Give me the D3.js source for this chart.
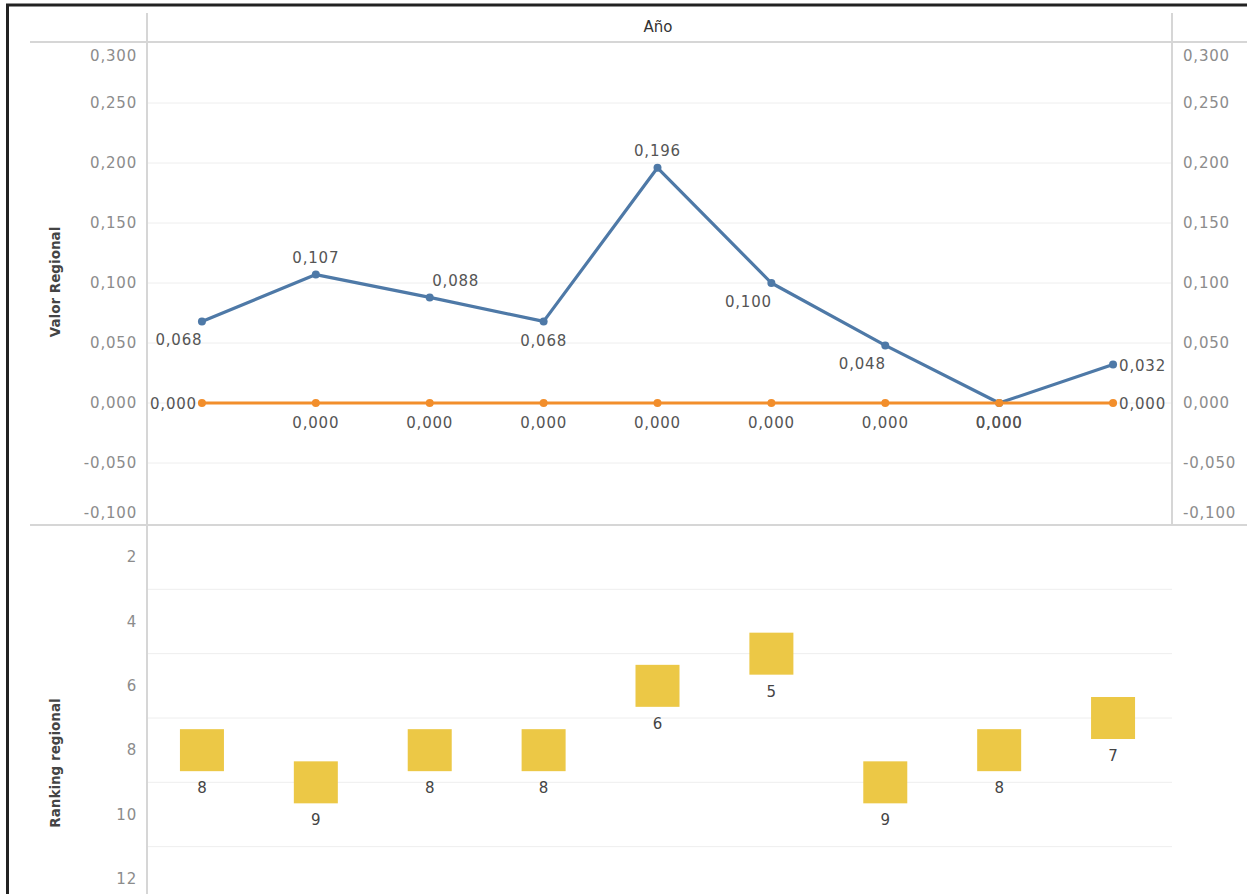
<!DOCTYPE html>
<html>
<head>
<meta charset="utf-8">
<script src="https://cdn.jsdelivr.net/npm/d3@7"></script>
<style>
  body { margin: 0; background: #fff; }
  svg text { font-family: "DejaVu Sans", sans-serif; }
</style>
</head>
<body>
<div id="chart"></div>
<script>
// Chart data.
var periodos = ["P1", "P2", "P3", "P4", "P5", "P6", "P7", "P8", "P9"];
var valorRegional = [0.068, 0.107, 0.088, 0.068, 0.196, 0.100, 0.048, 0.000, 0.032];
var valorReferencia = [0.000, 0.000, 0.000, 0.000, 0.000, 0.000, 0.000, 0.000, 0.000];
var rankingRegional = [8, 9, 8, 8, 6, 5, 9, 8, 7];

var valorTicks = [-0.1, -0.05, 0, 0.05, 0.1, 0.15, 0.2, 0.25, 0.3];
var rankingTicks = [2, 4, 6, 8, 10, 12];
var rankingGrid = [3, 5, 7, 9, 11];

// Where each mark label sits relative to its point.
var regionalLabelPos = ["bl", "t", "tr", "b", "t", "bl", "bl", "b", "r"];
var referenciaLabelPos = ["l", "b", "b", "b", "b", "b", "b", "b", "r"];

var W = 1247, H = 894;
var paneLeft = 145, paneRight = 1170;
var topPane = { top: 42, bottom: 525 };
var botPane = { top: 525, bottom: 894 };

var blue = "#4e79a7", orange = "#f28e2b", yellow = "#ecc846";
var sepColor = "#d6d6d6", gridColor = "#eeeeee";
var tickColor = "#8c8c8c", labelColor = "#555";

var locale = d3.formatLocale({ decimal: ",", thousands: ".", grouping: [3], currency: ["", ""], minus: "-" });
var fmt = locale.format(".3f");

var svg = d3.select("#chart").append("svg")
    .attr("width", W)
    .attr("height", H);

// Scales.
var x = d3.scalePoint()
    .domain(periodos)
    .range([paneLeft, paneRight])
    .padding(0.5);

var yValor = d3.scaleLinear()
    .domain([-0.1, 0.3])
    .range([523, 43]);

var yRank = d3.scaleLinear()
    .domain([1, 13])
    .range([525, 911]);

// Gridlines.
svg.append("g").selectAll("line")
    .data(valorTicks.filter(t => t > -0.1 && t < 0.3))
    .enter().append("line")
    .attr("x1", 147).attr("x2", 1172)
    .attr("y1", d => yValor(d)).attr("y2", d => yValor(d))
    .attr("stroke", gridColor).attr("stroke-width", 1);

svg.append("g").selectAll("line")
    .data(rankingGrid)
    .enter().append("line")
    .attr("x1", 147).attr("x2", 1172)
    .attr("y1", d => yRank(d)).attr("y2", d => yRank(d))
    .attr("stroke", gridColor).attr("stroke-width", 1);

// Frame and separators.
svg.append("rect")
    .attr("x", 7.5).attr("y", 5)
    .attr("width", W + 10).attr("height", H + 10)
    .attr("fill", "none").attr("stroke", "#222").attr("stroke-width", 3);

var sep = svg.append("g").attr("stroke", sepColor).attr("stroke-width", 2);
sep.append("line").attr("x1", 30).attr("x2", W).attr("y1", topPane.top).attr("y2", topPane.top);
sep.append("line").attr("x1", 30).attr("x2", W).attr("y1", topPane.bottom).attr("y2", topPane.bottom);
sep.append("line").attr("x1", 147).attr("x2", 147).attr("y1", 13).attr("y2", H);
sep.append("line").attr("x1", 1172).attr("x2", 1172).attr("y1", 13).attr("y2", topPane.bottom);

// Column header.
svg.append("text")
    .attr("x", 658).attr("y", 27)
    .attr("text-anchor", "middle").attr("dominant-baseline", "central")
    .attr("font-size", 15).attr("fill", "#333")
    .text("Año");

// Axis tick labels (pushed inside the pane at the edges, like Tableau).
function clampY(v, pane) {
    return Math.max(pane.top + 14, Math.min(pane.bottom - 12, v));
}

var tickFont = { size: 15, spacing: 0.8 };

svg.append("g").selectAll("text")
    .data(valorTicks)
    .enter().append("text")
    .attr("x", 137).attr("y", d => clampY(yValor(d), topPane))
    .attr("text-anchor", "end").attr("dominant-baseline", "central")
    .attr("font-size", tickFont.size).attr("letter-spacing", tickFont.spacing)
    .attr("fill", tickColor)
    .text(d => fmt(d));

svg.append("g").selectAll("text")
    .data(valorTicks)
    .enter().append("text")
    .attr("x", 1183).attr("y", d => clampY(yValor(d), topPane))
    .attr("text-anchor", "start").attr("dominant-baseline", "central")
    .attr("font-size", tickFont.size).attr("letter-spacing", tickFont.spacing)
    .attr("fill", tickColor)
    .text(d => fmt(d));

svg.append("g").selectAll("text")
    .data(rankingTicks)
    .enter().append("text")
    .attr("x", 137).attr("y", d => yRank(d))
    .attr("text-anchor", "end").attr("dominant-baseline", "central")
    .attr("font-size", tickFont.size).attr("letter-spacing", tickFont.spacing)
    .attr("fill", tickColor)
    .text(d => d);

// Axis titles.
function axisTitle(label, cx, cy) {
    svg.append("text")
        .attr("transform", "translate(" + cx + "," + cy + ") rotate(-90)")
        .attr("text-anchor", "middle").attr("dominant-baseline", "central")
        .attr("font-size", 13.5).attr("font-weight", "bold").attr("fill", "#444")
        .text(label);
}
axisTitle("Valor Regional", 55, 282);
axisTitle("Ranking regional", 55, 763);

// Line series.
var lineGen = d3.line()
    .x((d, i) => x(periodos[i]))
    .y(d => yValor(d));

function drawSeries(values, color) {
    svg.append("path")
        .datum(values)
        .attr("d", lineGen)
        .attr("fill", "none")
        .attr("stroke", color)
        .attr("stroke-width", 3.2)
        .attr("stroke-linejoin", "round");

    svg.append("g").selectAll("circle")
        .data(values)
        .enter().append("circle")
        .attr("cx", (d, i) => x(periodos[i]))
        .attr("cy", d => yValor(d))
        .attr("r", 4)
        .attr("fill", color);
}

drawSeries(valorRegional, blue);
drawSeries(valorReferencia, orange);

// Mark labels.
var offsets = {
    t:  { dx: 0,   dy: -17, anchor: "middle" },
    b:  { dx: 0,   dy: 20,  anchor: "middle" },
    bl: { dx: -23, dy: 19,  anchor: "middle" },
    tr: { dx: 26,  dy: -16, anchor: "middle" },
    r:  { dx: 6,   dy: 1,   anchor: "start" },
    l:  { dx: -5,  dy: 1,   anchor: "end" }
};

function drawLabels(values, positions) {
    svg.append("g").selectAll("text")
        .data(values)
        .enter().append("text")
        .attr("x", (d, i) => x(periodos[i]) + offsets[positions[i]].dx)
        .attr("y", d => yValor(d))
        .attr("dy", (d, i) => offsets[positions[i]].dy)
        .attr("text-anchor", (d, i) => offsets[positions[i]].anchor)
        .attr("dominant-baseline", "central")
        .attr("font-size", tickFont.size).attr("letter-spacing", tickFont.spacing)
        .attr("fill", labelColor)
        .text(d => fmt(d));
}

drawLabels(valorRegional, regionalLabelPos);
drawLabels(valorReferencia, referenciaLabelPos);

// Ranking squares.
var sqW = 44, sqH = 42;

svg.append("g").selectAll("rect")
    .data(rankingRegional)
    .enter().append("rect")
    .attr("x", (d, i) => x(periodos[i]) - sqW / 2)
    .attr("y", d => yRank(d) - sqH / 2)
    .attr("width", sqW).attr("height", sqH)
    .attr("fill", yellow);

svg.append("g").selectAll("text")
    .data(rankingRegional)
    .enter().append("text")
    .attr("x", (d, i) => x(periodos[i]))
    .attr("y", d => yRank(d) + 38)
    .attr("text-anchor", "middle").attr("dominant-baseline", "central")
    .attr("font-size", 15).attr("fill", "#444")
    .text(d => d);
</script>
</body>
</html>
